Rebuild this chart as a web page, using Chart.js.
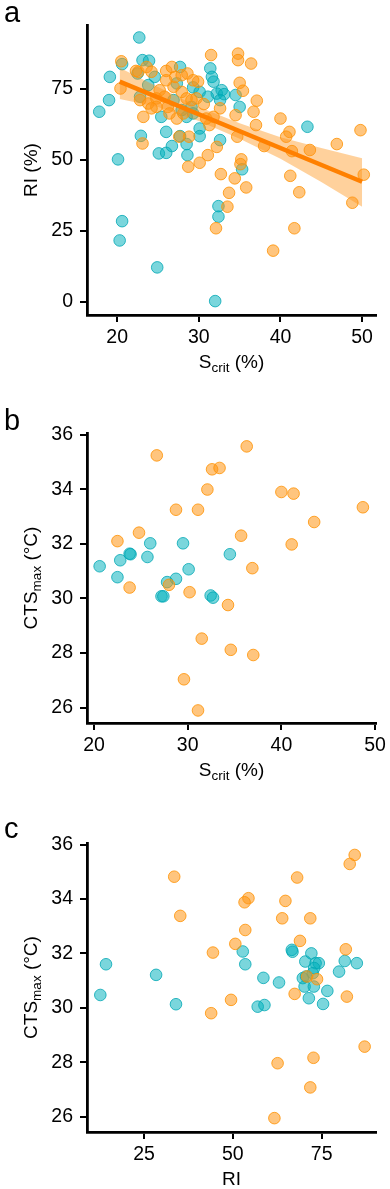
<!DOCTYPE html>
<html><head><meta charset="utf-8">
<script src="https://cdn.jsdelivr.net/npm/chart.js@4/dist/chart.umd.min.js"></script>
<style>
html,body{margin:0;padding:0;background:#fff;}
#wrap{position:relative;width:390px;height:1189px;overflow:hidden;}
canvas{position:absolute;left:0;}
</style></head><body>
<div id="wrap">
<canvas id="ca" style="top:0px;width:390px;height:390px" width="390" height="390"></canvas>
<canvas id="cb" style="top:390px;width:390px;height:400px" width="390" height="400"></canvas>
<canvas id="cc" style="top:790px;width:390px;height:399px" width="390" height="399"></canvas>
</div>
<script>
// ---------- DATA ----------
// Panel a: Scrit (%) vs RI (%)
const aTealX = [22.7,17.8,19.1,19.0,20.6,20.1,23.1,23.9,24.6,22.5,22.8,23.8,25.4,26.0,22.9,25.1,26.0,26.7,27.7,28.5,28.6,27.7,27.3,29.3,30.1,30.1,30.1,32.6,31.4,31.6,31.8,31.1,32.2,32.8,33.1,32.6,34.5,35.0,43.3,35.3,29.1,27.9,28.5,29.3,26.9,20.6,20.3,24.9,32.0,32.4,32.4];
const aTealY = [93.2,67.0,79.3,71.1,83.8,50.2,85.2,85.0,79.3,80.5,72.3,76.4,65.2,59.9,58.5,52.3,52.5,54.9,58.4,55.6,51.7,82.8,77.0,75.6,74.0,61.1,58.4,57.0,82.3,79.3,77.6,72.3,73.4,74.6,73.2,71.1,72.9,68.7,61.7,46.7,68.7,67.6,65.2,66.4,71.1,28.4,21.6,12.1,0.2,33.7,30.0];
const aOrangeX = [20.5,20.4,22.3,23.2,23.1,26.0,26.7,28.6,29.9,29.7,27.3,28.7,30.1,31.1,32.2,31.5,34.8,34.8,36.4,35.0,35.4,34.5,34.7,32.6,31.3,28.8,27.6,37.1,36.7,37.0,38.0,40.0,41.1,40.7,41.4,43.6,46.9,49.8,50.2,41.2,32.7,34.4,35.2,35.1,32.1,33.5,33.7,35.8,39.1,41.7,42.3,48.8,22.6,23.6,24.2,22.8,23.8,24.8,25.2,25.8,26.2,26.9,27.9,28.5,29.1,30.6,30.9,31.8,28.1,24.8,24.2,27.1,29.3,27.9,26.0,26.4];
const aOrangeY = [84.8,75.2,81.4,65.2,55.8,81.4,82.8,80.5,77.6,71.7,64.6,47.6,49.0,51.7,54.6,87.0,87.5,85.2,84.0,77.2,74.4,65.8,58.2,68.2,62.3,58.2,58.2,70.9,67.0,62.3,54.9,64.6,59.9,58.2,53.1,53.5,55.6,60.5,44.8,44.4,45.0,43.5,50.2,48.5,25.9,33.5,38.4,40.3,18.0,25.9,38.6,34.9,81.1,82.8,81.1,71.1,69.9,71.7,74.6,72.3,68.7,75.8,74.0,71.7,71.1,69.7,64.6,65.2,66.4,68.7,68.2,79.3,78.1,79.9,78.1,66.4];
const fitX = [20.3, 50.0];
const fitY = [77.6, 42.3];
const bandX = [20.3, 25, 30, 35, 40, 45, 50.0];
const bandLower = [71.5, 68.7, 63.7, 57.5, 50.4, 42.2, 33.5];
const bandUpper = [82.5, 75.7, 68.7, 62.9, 58.0, 54.2, 50.6];
const aXTicks = [20, 30, 40, 50];
const aYTicks = [0, 25, 50, 75];

// Panel b: Scrit (%) vs CTSmax (°C)
const bOrangeX = [26.7,36.3,32.6,33.4,32.1,28.75,31.1,40.0,41.3,48.7,43.5,41.1,35.7,36.9,24.8,22.5,23.8,28.0,30.2,34.3,31.5,34.6,37.0,29.6,31.1];
const bOrangeY = [35.24,35.57,34.73,34.78,33.99,33.25,33.25,33.90,33.84,33.34,32.80,31.98,32.30,31.11,32.41,32.10,30.40,30.50,30.23,29.76,28.53,28.12,27.93,27.04,25.90];
const bTealX = [20.6,22.5,22.8,23.8,23.9,25.7,26.0,29.5,30.1,34.5,27.8,28.75,27.2,27.4,32.45,32.7];
const bTealY = [31.18,30.78,31.40,31.64,31.62,31.52,32.02,32.02,31.07,31.62,30.60,30.72,30.08,30.08,30.11,30.03];
const bXTicks = [20, 30, 40, 50];
const bYTicks = [26, 28, 30, 32, 34, 36];

// Panel c: RI vs CTSmax (°C)
const cOrangeX = [33.5,35.2,84.3,82.9,68.1,54.4,53.3,64.8,63.9,71.8,53.5,68.9,50.7,44.4,81.8,73.7,82.1,67.4,49.5,43.9,87.1,72.7,62.6,71.8,61.7,70.9];
const cOrangeY = [34.82,33.38,35.62,35.29,34.79,34.03,33.88,33.93,33.29,33.29,32.86,32.46,32.35,32.03,32.15,31.05,30.41,30.51,30.29,29.80,28.57,28.16,27.96,27.07,25.94,31.15];
const cTealX = [14.3,12.7,28.4,34.0,52.8,53.5,58.6,63.0,57.0,58.9,66.6,66.8,72.1,70.4,73.3,74.2,72.9,72.5,69.7,70.6,79.9,81.5,84.9,76.6,71.4,75.4,70.2,72.8];
const cTealY = [31.60,30.47,31.21,30.13,32.07,31.60,31.10,30.93,30.04,30.10,32.13,32.06,32.00,31.70,31.64,31.64,31.46,31.27,31.09,31.15,31.33,31.72,31.64,30.62,30.35,30.14,30.78,30.78];
const cXTicks = [25, 50, 75];
const cYTicks = [26, 28, 30, 32, 34, 36];

// ---------- STYLE ----------
const FONT = '"Liberation Sans", Arial, Helvetica, sans-serif';
const TEAL_FILL = 'rgba(0,176,188,0.52)';
const TEAL_LINE = 'rgba(0,168,180,0.8)';
const ORANGE_FILL = 'rgba(255,150,20,0.55)';
const ORANGE_LINE = 'rgba(255,145,0,0.8)';

function pts(xs, ys){ return xs.map((x,i)=>({x:x, y:ys[i]})); }

function drawRich(ctx, parts, x, y){
  let total = 0;
  parts.forEach(p=>{ ctx.font = p.s + 'px ' + FONT; p.w = ctx.measureText(p.t).width; total += p.w; });
  let cx = x - total/2;
  ctx.textAlign = 'left';
  ctx.textBaseline = 'alphabetic';
  parts.forEach(p=>{ ctx.font = p.s + 'px ' + FONT; ctx.fillText(p.t, cx, y + (p.dy||0)); cx += p.w; });
}

const annot = {
  id: 'annot',
  afterDraw(chart, args, o){
    const ctx = chart.ctx, ca = chart.chartArea;
    ctx.save();
    ctx.fillStyle = '#000';
    ctx.font = '29px ' + FONT;
    ctx.textAlign = 'left'; ctx.textBaseline = 'alphabetic';
    ctx.fillText(o.letter, 4, o.letterY);
    drawRich(ctx, o.xTitle, (ca.left + ca.right)/2, ca.bottom + 53);
    ctx.translate(36.5, (ca.top + ca.bottom)/2);
    ctx.rotate(-Math.PI/2);
    drawRich(ctx, o.yTitle, 0, 0);
    ctx.restore();
  }
};

function axis(min, max, tickVals, isX, size){
  return {
    type: 'linear', min: min, max: max,
    afterBuildTicks: s => { s.ticks = tickVals.map(v=>({value:v})); },
    afterFit: s => { if (isX) s.height = size; else s.width = size; },
    border: {display: true, color: '#000', width: 2.8},
    grid: {display: true, drawOnChartArea: false, drawTicks: true, tickLength: 7, color: '#000', lineWidth: 2},
    ticks: {color: '#000', font: {size: 19.5, family: FONT}, padding: isX ? 4 : 7, maxRotation: 0, autoSkip: false}
  };
}

function scatterDs(data, fill, line, order){
  return {type: 'scatter', data: data, backgroundColor: fill, borderColor: line, borderWidth: 1,
          pointRadius: 5.8, pointHoverRadius: 5.8, order: order};
}

function makeChart(id, H, top, bottom, xr, yr, xt, yt, datasets, letter, letterY, xTitle, yTitle){
  return new Chart(document.getElementById(id), {
    type: 'scatter',
    data: {datasets: datasets},
    options: {
      responsive: false, animation: false, devicePixelRatio: 1,
      layout: {padding: {left: 0, right: 14, top: top, bottom: 0}},
      plugins: {legend: {display: false}, tooltip: {enabled: false},
                annot: {letter: letter, letterY: letterY, xTitle: xTitle, yTitle: yTitle}},
      scales: {
        x: axis(xr[0], xr[1], xt, true, H - bottom),
        y: axis(yr[0], yr[1], yt, false, 87)
      }
    },
    plugins: [annot]
  });
}

const sTitle = [{t:'S', s:19}, {t:'crit', s:13.5, dy:4}, {t:' (%)', s:19}];
const ctsTitle = [{t:'CTS', s:19}, {t:'max', s:13.5, dy:4}, {t:' (°C)', s:19}];

makeChart('ca', 390, 25, 315, [16.3, 51.7], [-4.7, 97.6], aXTicks, aYTicks, [
  {type:'line', data: pts(fitX, fitY), borderColor:'#FF8000', borderWidth:4.5, pointRadius:0, fill:false, order:0},
  {type:'line', data: pts(bandX, bandUpper), borderColor:'transparent', borderWidth:0, pointRadius:0, fill:'+1', backgroundColor:'rgba(255,145,20,0.42)', order:1},
  {type:'line', data: pts(bandX, bandLower), borderColor:'transparent', borderWidth:0, pointRadius:0, fill:false, order:1},
  scatterDs(pts(aOrangeX, aOrangeY), ORANGE_FILL, ORANGE_LINE, 2),
  scatterDs(pts(aTealX, aTealY), TEAL_FILL, TEAL_LINE, 3)
], 'a', 22, sTitle, [{t:'RI (%)', s:19}]);

makeChart('cb', 400, 43, 333, [19.25, 50.1], [25.44, 36.06], bXTicks, bYTicks, [
  scatterDs(pts(bOrangeX, bOrangeY), ORANGE_FILL, ORANGE_LINE, 2),
  scatterDs(pts(bTealX, bTealY), TEAL_FILL, TEAL_LINE, 3)
], 'b', 40, sTitle, ctsTitle);

makeChart('cc', 399, 53, 342, [8.95, 90.3], [25.43, 36.06], cXTicks, cYTicks, [
  scatterDs(pts(cOrangeX, cOrangeY), ORANGE_FILL, ORANGE_LINE, 2),
  scatterDs(pts(cTealX, cTealY), TEAL_FILL, TEAL_LINE, 3)
], 'c', 48, [{t:'RI', s:19}], ctsTitle);
</script>
</body></html>
